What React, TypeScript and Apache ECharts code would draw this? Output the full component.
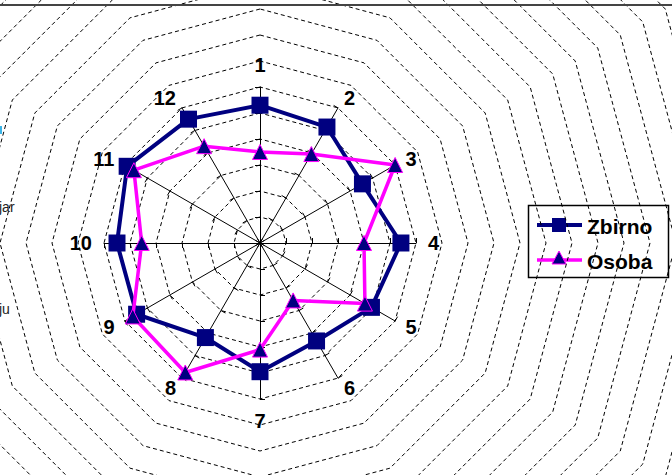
import React, { useEffect, useRef } from "react";
import * as echarts from "echarts";

const categories = ["1", "2", "3", "4", "5", "6", "7", "8", "9", "10", "11", "12"];
const zbirno = [5.3, 5.15, 4.55, 5.42, 4.95, 4.35, 4.95, 4.2, 5.48, 5.5, 5.9, 5.5];
const osoba = [3.5, 3.95, 6.0, 4.0, 4.66, 2.55, 4.1, 5.75, 5.65, 4.55, 5.6, 4.3];
const seriesNames = ["Zbirno", "Osoba"];
const axisMax = 6;

// ECharts places indicators counter-clockwise; reorder so they run clockwise
const order = categories.map((_, i) => (i === 0 ? 0 : categories.length - i));

export default function App() {
  const ref = useRef<HTMLDivElement>(null);
  useEffect(() => {
    if (!ref.current) return;
    const chart = echarts.init(ref.current, null, { renderer: "svg" });
    const center = [260, 243];
    const font = "Liberation Sans, Arial, sans-serif";
    chart.setOption({
      animation: false,
      backgroundColor: "#fff",
      radar: [
        {
          center,
          radius: 520,
          startAngle: 90,
          splitNumber: 20,
          indicator: order.map(() => ({ name: "", max: 20, min: 0 })),
          axisName: { show: false },
          axisLine: { show: false },
          axisTick: { show: false },
          axisLabel: { show: false },
          splitArea: { show: false },
          splitLine: { lineStyle: { color: "#000", width: 1, type: [4, 3] } },
          silent: true,
        },
        {
          center,
          radius: 156,
          startAngle: 90,
          splitNumber: 6,
          indicator: order.map((i) => ({ name: categories[i], max: axisMax, min: 0 })),
          nameGap: 12,
          axisName: { color: "#000", fontSize: 20, fontWeight: "bold", fontFamily: font },
          axisLine: { show: true, lineStyle: { color: "#000", width: 1 } },
          axisTick: { show: true, length: 5, lineStyle: { color: "#000", width: 1 } },
          splitArea: { show: false },
          splitLine: { show: false },
        },
      ],
      series: [
        {
          type: "radar",
          radarIndex: 1,
          name: seriesNames[0],
          symbol: "rect",
          symbolSize: 17,
          lineStyle: { color: "#000080", width: 4 },
          itemStyle: { color: "#000080" },
          data: [{ value: order.map((i) => zbirno[i]), name: seriesNames[0] }],
          z: 3,
        },
        {
          type: "radar",
          radarIndex: 1,
          name: seriesNames[1],
          symbol: "triangle",
          symbolSize: 15,
          lineStyle: { color: "#ff00ff", width: 3.5 },
          itemStyle: { color: "#000080", borderColor: "#ff00ff", borderWidth: 1 },
          data: [{ value: order.map((i) => osoba[i]), name: seriesNames[1] }],
          z: 4,
        },
      ],
      graphic: [
        { type: "line", shape: { x1: 0, y1: 5, x2: 672, y2: 5 }, style: { stroke: "#444", lineWidth: 2 }, z: 10 },
        { type: "text", left: -1, top: 200, style: { text: "jar", font: `14px ${font}`, fill: "#222" }, z: 10 },
        { type: "text", left: -1, top: 302, style: { text: "ju", font: `14px ${font}`, fill: "#222" }, z: 10 },
        { type: "rect", shape: { x: 0, y: 126, width: 2, height: 8 }, style: { fill: "#3cb4e6" }, z: 10 },
        {
          type: "group",
          z: 20,
          children: [
            { type: "rect", shape: { x: 528.5, y: 205.5, width: 140, height: 72 }, style: { fill: "#fff", stroke: "#000", lineWidth: 1.5 } },
            { type: "line", shape: { x1: 537, y1: 225, x2: 582, y2: 225 }, style: { stroke: "#000080", lineWidth: 4 } },
            { type: "rect", shape: { x: 552, y: 218, width: 14, height: 14 }, style: { fill: "#000080" } },
            { type: "text", x: 587, y: 226, style: { text: seriesNames[0], font: `bold 21px ${font}`, fill: "#000", verticalAlign: "middle" } },
            { type: "line", shape: { x1: 537, y1: 260, x2: 582, y2: 260 }, style: { stroke: "#ff00ff", lineWidth: 3.5 } },
            { type: "polygon", shape: { points: [[559, 251], [566, 264], [552, 264]] }, style: { fill: "#000080", stroke: "#ff00ff", lineWidth: 1 } },
            { type: "text", x: 587, y: 261, style: { text: seriesNames[1], font: `bold 21px ${font}`, fill: "#000", verticalAlign: "middle" } },
          ],
        },
      ],
    });
    return () => chart.dispose();
  }, []);
  return <div ref={ref} style={{ position: "fixed", left: 0, top: 0, width: 672, height: 475 }} />;
}
